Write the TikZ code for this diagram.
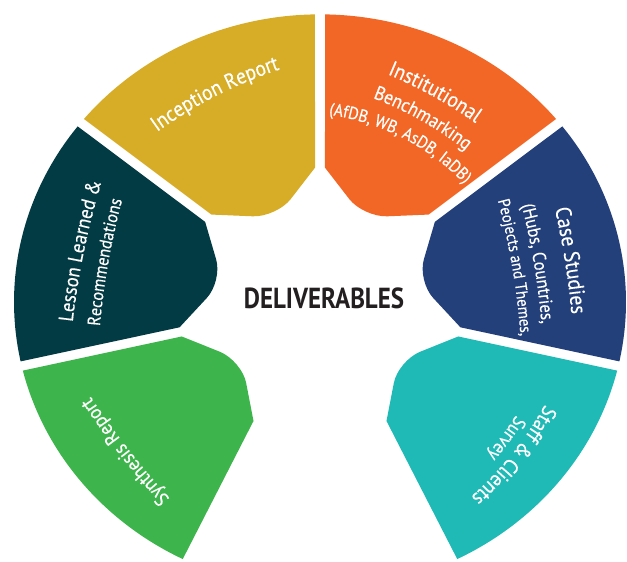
\documentclass[tikz,border=0pt]{standalone}
\usepackage{fontspec}
\usetikzlibrary{decorations.text}
\newfontfamily\labfont[FakeStretch=0.9,FakeBold=0.3]{PT Sans}
\newfontfamily\titfont[FakeStretch=0.86]{PT Sans}
\definecolor{cyel}{HTML}{D7AC26}
\definecolor{corg}{HTML}{F26725}
\definecolor{cnav}{HTML}{23407A}
\definecolor{ctea}{HTML}{1FBAB6}
\definecolor{cgrn}{HTML}{3EB54C}
\definecolor{cdrk}{HTML}{033B45}
\definecolor{ctxt}{HTML}{231F20}
\def\sgRO{306}\def\sgRI{143}\def\sgRV{100}\def\sgRC{24}
\def\sgDIn{2.0}\def\sgDOut{0.94}
\newcommand\wedgeseg[3]{%
 \pgfmathsetmacro\sgA{#1+\sgDIn}%
 \pgfmathsetmacro\sgAo{#1+\sgDOut}%
 \pgfmathsetmacro\sgBo{#2-\sgDOut}%
 \pgfmathsetmacro\sgB{#2-\sgDIn}%
 \pgfmathsetmacro\sgM{(#1+#2)/2}%
 \pgfmathsetmacro\sgVx{\sgRV*cos(\sgM)}%
 \pgfmathsetmacro\sgVy{\sgRV*sin(\sgM)}%
 \pgfmathsetmacro\sgAx{\sgRI*cos(\sgB)}%
 \pgfmathsetmacro\sgAy{\sgRI*sin(\sgB)}%
 \pgfmathsetmacro\sgBx{\sgRI*cos(\sgA)}%
 \pgfmathsetmacro\sgBy{\sgRI*sin(\sgA)}%
 \pgfmathsetmacro\sgLa{veclen(\sgAx-\sgVx,\sgAy-\sgVy)}%
 \pgfmathsetmacro\sgLb{veclen(\sgBx-\sgVx,\sgBy-\sgVy)}%
 \pgfmathsetmacro\sgPax{\sgVx+\sgRC*(\sgAx-\sgVx)/\sgLa}%
 \pgfmathsetmacro\sgPay{\sgVy+\sgRC*(\sgAy-\sgVy)/\sgLa}%
 \pgfmathsetmacro\sgPbx{\sgVx+\sgRC*(\sgBx-\sgVx)/\sgLb}%
 \pgfmathsetmacro\sgPby{\sgVy+\sgRC*(\sgBy-\sgVy)/\sgLb}%
 \pgfmathsetmacro\sgQax{\sgPax+0.55*(\sgVx-\sgPax)}%
 \pgfmathsetmacro\sgQay{\sgPay+0.55*(\sgVy-\sgPay)}%
 \pgfmathsetmacro\sgQbx{\sgPbx+0.55*(\sgVx-\sgPbx)}%
 \pgfmathsetmacro\sgQby{\sgPby+0.55*(\sgVy-\sgPby)}%
 \fill[#3] (\sgA:\sgRI pt) -- (\sgAo:\sgRO pt)
   arc[start angle=\sgAo, end angle=\sgBo, radius=\sgRO pt]
   -- (\sgB:\sgRI pt) -- (\sgPax pt,\sgPay pt)
   .. controls (\sgQax pt,\sgQay pt) and (\sgQbx pt,\sgQby pt) .. (\sgPbx pt,\sgPby pt)
   -- cycle;
}
\newcommand\curvtext[5]{%
 \pgfmathsetmacro\ctCx{(#2-#3)*cos(#1)}%
 \pgfmathsetmacro\ctCy{(#2-#3)*sin(#1)}%
 \pgfmathsetmacro\ctD{8000/#3}%
 \pgfmathsetmacro\ctS{#1+\ctD}%
 \pgfmathsetmacro\ctE{#1-\ctD}%
 \path[decorate, decoration={text along path, text align=center, text color=white,
   text={|\labfont\fontsize{#4}{#4}\selectfont|#5}}]
   (\ctCx pt,\ctCy pt) ++(\ctS:#3 pt) arc[start angle=\ctS, end angle=\ctE, radius=#3 pt];
}
\begin{document}
\begin{tikzpicture}
\useasboundingbox (0,0) rectangle (627pt,562pt);
\begin{scope}[shift={(320pt,260pt)}, yscale=0.94]
 \wedgeseg{90}{141.43}{cyel}
 \wedgeseg{141.43}{192.86}{cdrk}
 \wedgeseg{192.86}{244.29}{cgrn}
 \wedgeseg{295.71}{347.14}{ctea}
 \wedgeseg{347.14}{398.57}{cnav}
 \wedgeseg{38.57}{90}{corg}
\end{scope}
\begin{scope}[shift={(320pt,262pt)}]
 \curvtext{117}{229}{450}{21.5}{Inception Report}
 \curvtext{61}{233}{450}{21.5}{Institutional}
 \curvtext{60.5}{206}{350}{19.5}{Benchmarking}
 \curvtext{63}{182}{230}{17.5}{(AfDB, WB, AsDB, IaDB)}
 \curvtext{9}{248}{800}{22}{Case Studies}
 \curvtext{9.5}{217}{750}{18.5}{(Hubs, Countries,}
 \curvtext{9.5}{195}{750}{16.5}{Peojects and Themes,}
 \curvtext{168.4}{241}{800}{20.5}{Lesson Learned {\&}}
 \curvtext{170}{215}{750}{18}{Recommendations}
 \curvtext{217.9}{243}{800}{20}{Synthesis Report}
 \curvtext{321.3}{246}{350}{21}{Staff {\&} Clients}
 \curvtext{323.4}{227}{350}{19}{Survey}
\end{scope}
\node[font=\titfont\bfseries\fontsize{29}{29}\selectfont, text=ctxt] (title) at (324pt,264pt) {DELIVERABLES};
\end{tikzpicture}
\end{document}
